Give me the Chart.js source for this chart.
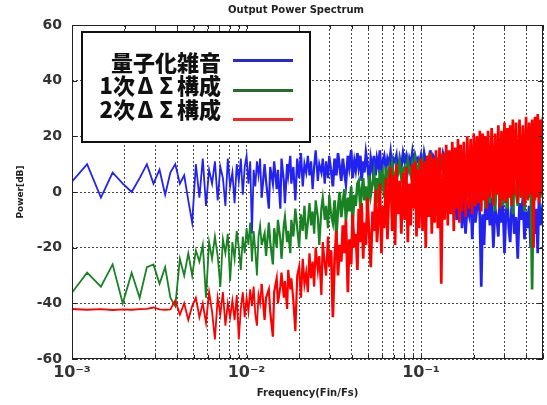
<!DOCTYPE html>
<html>
<head>
<meta charset="utf-8">
<script src="https://cdn.jsdelivr.net/npm/chart.js@4.4.1/dist/chart.umd.min.js"></script>
<style>
  body { margin: 0; background: #fff; }
  #wrap { position: relative; width: 547px; height: 405px; }
  #legend-box { position: absolute; left: 81px; top: 31px; width: 230px; height: 112px;
    box-sizing: border-box; border: 2.5px solid #111; background: #fff; }
  .lg-text { position: absolute; left: 60px; width: 161px; height: 24px; line-height: 24px;
    text-align: right; font: 900 22px "Noto Sans CJK JP"; color: #111; white-space: nowrap; }
  .fw { display: inline-block; width: 21px; text-align: center; }
  .lg-line { position: absolute; left: 233px; width: 60px; height: 2.5px; }
</style>
</head>
<body>
<div id="wrap">
  <canvas id="chart" width="547" height="405"></canvas>
  <div id="legend-box"></div>
  <div id="legend"></div>
</div>
<script>
// FFT length, frequency = bin / N (Fin/Fs)
const N = 4096;

const bins = [
  4, 5, 6, 7, 8, 9, 10, 11, 12, 13, 14, 15, 16, 17, 18, 19, 20, 21, 22, 23,
  24, 25, 26, 27, 28, 29, 30, 31, 32, 33, 34, 35, 36, 37, 38, 39,
  40, 41, 42, 43, 44, 45, 46, 47, 48, 49, 50,
  52, 53, 55, 56, 58, 59, 61, 62, 64, 65, 67, 68, 70, 71, 73, 74, 76,
  78, 80, 82, 84, 86, 88, 90, 92, 94, 96, 98, 100,
  102, 105, 107, 110, 112, 115, 117, 120, 122, 125,
  128, 131, 134, 137, 140, 143, 146, 149,
  152, 156, 159, 163, 166, 170, 173, 177, 180, 184, 187, 191, 194, 198,
  202, 207, 211, 216, 220, 225, 229, 234, 238, 243, 247,
  252, 258, 263, 269, 274, 280, 285, 291, 296, 302,
  309, 316, 323, 330, 337, 344, 351, 358, 365, 372, 379, 386, 393, 400,
  409, 418, 427, 436, 445, 454, 463, 472, 481, 490, 499,
  511, 523, 535, 547, 559, 571, 583, 595, 607, 619, 631, 643, 655, 667, 679, 691, 703,
  720, 737, 754, 771, 788, 805, 822, 839, 856, 873, 890, 907, 924, 941, 958, 975, 992,
  1016, 1040, 1064, 1088, 1112, 1136, 1160, 1184, 1208, 1232, 1256, 1280, 1304, 1328, 1352, 1376, 1400,
  1434, 1468, 1502, 1536, 1570, 1604, 1638, 1672, 1706, 1740, 1774, 1808, 1842, 1876, 1910, 1944, 1978, 2012, 2048
];

// 量子化雑音 [dB]
const quantNoise = [
  3, 10, -2, 7, 3, 0, 5, 10, 3, 8, -1, 7, 10, 3, 6, -3, -11, 10, -2, 12,
  -5, 8, 3, 11, -3, 9, 5, -5, 12, 2, 7, -4, 10, 4, 12, -1,
  9, 13, 3, 11, -15, 8, 2, 11, 6, 12, -2,
  10, 4, -6, 9, 3, 11, 1, 8, -6, 12, 4, -4, 10, 6, 13, 3, 9,
  -3, 12, 5, 14, 2, 10, 7, 13, 6, 11, 1, 9,
  15, 4, 10, 7, 12, 3, 11, 5, 13, 8,
  2, 12, 6, 14, 9, 4, 12, 7,
  3, 13, 9, 15, 5, 11, 8, 14, 9, 13, 4, 11, 7, 14,
  10, 3, 12, 8, 13, 6, 12, 9, 15, 4, 11,
  13, 8, 12, 10, 14, 7, 12, 11, 13, 6,
  12, 9, 14, 11, 13, 8, 12, 10, 14, 9, 13, 11, 12, 10,
  13, 8, 14, 11, 12, 9, 15, 10, 13, 12, 9,
  11, 13, 10, 14, 12, 9, 13, 11, 5, 2, -6, 4, -10, 0, -4, 3, -13,
  -2, -15, -5, -8, 1, -17, -3, -11, -6, 2, -9, -34, -8, -19, -4, -10, 0,
  -12, -2, -20, -6, -9, -16, 0, -11, -5, -22, -8, -3, -13, -18, -6, -1, -15,
  -9, -24, -4, -10, -2, -17, -7, -13, -5, -20, -3, -11, -15, -6, -22, -1, -12, -8, -4
];

// 1次ΔΣ構成 [dB]
const firstOrder = [
  -37, -29, -34, -26, -40, -29, -38, -27, -26, -33, -27, -38, -41, -24, -30, -22, -30, -21, -25, -19,
  -38, -18, -24, -16, -23, -34, -17, -22, -15, -32, -18, -24, -14, -20, -28, -16,
  -22, -13, -19, -11, -25, -14, -21, -30, -16, -12, -19,
  -15, -23, -11, -18, -26, -13, -20, -10, -17, -24, -12, -9, -18, -14, -22, -10, -16,
  -6, -13, -20, -8, -14, -5, -17, -11, -4, -12, -7, -15,
  -3, -9, -19, -6, -2, -10, -5, -13, -1, -8,
  -11, -3, -16, -6, 0, -9, -4, 1,
  -10, -2, -7, 2, -12, -1, -5, 3, 4, -6, 0, 5, -3, 2,
  -8, 6, -1, 3, 7, 1, 5, -4, 8, 3, 6,
  -2, 9, 4, 8, 4, 10, 6, 2, 9, 7,
  11, 5, 8, 9, 6, 11, 8, 6, 10, 7, 12, 9, 6, 10,
  8, 11, 6, 10, 9, 12, 7, 11, 8, 10, 6,
  10, 7, 11, 9, 12, 8, 10, 6, 9, 4, 8, 0, 6, 2, 9, -4, 5,
  3, -2, 7, 0, 5, -5, 8, 2, 6, -3, 4, 9, -1, 5, -6, 3, 7,
  -4, 7, 1, -7, 5, 2, -3, 8, -5, 4, 1, -6, 7, -2, 5, -8, 3,
  0, -5, 6, -2, 4, -7, 3, 8, -2, 5, -35, 6, -3, 4, 0, 7, -2, 5, 1
];

// 2次ΔΣ構成 [dB]
const secondOrder = [
  -42, -42.3, -42.1, -42.4, -42.2, -42.3, -42.1, -42, -41.5, -42.2, -42.3, -42.2, -39, -44, -40, -46, -41, -38, -45, -40,
  -47, -36, -43, -53, -38, -44, -36, -48, -40, -45, -39, -46, -37, -53, -42, -36,
  -45, -38, -43, -35, -41, -34, -44, -48, -37, -40, -33,
  -46, -38, -35, -43, -52, -36, -31, -40, -34, -29, -38, -32, -42, -28, -35, -31, -39,
  -50, -30, -27, -38, -24, -33, -29, -36, -22, -31, -25, -34,
  -20, -28, -23, -37, -18, -26, -30, -16, -27, -21,
  -45, -24, -14, -30, -19, -25, -12, -22,
  -10, -36, -17, -26, -8, -20, -15, -28, -6, -18, -4, -24, -11, -19,
  -2, -16, -27, -7, -14, 1, -18, -9, 3, -22, -5,
  -13, 5, -17, 2, 9, -14, 6, -19, 10, -8,
  4, -15, 7, -10, 9, -18, 3, -12, 10, -6, 11, -16, 8, -13,
  12, -14, 11, -20, 13, -9, 14, -15, 12, -11, 15,
  -13, 16, -33, 14, -10, 17, -12, 15, -8, 18, -14, 16, -6, 19, -11, 17, -7,
  18, -9, 20, -6, 19, -8, 21, -5, 20, -4, 22, -7, 21, -3, 20, -6, 22,
  -2, 23, -5, 21, -1, 24, -6, 22, -3, 25, -4, 23, -2, 24, -5, 26, -1,
  25, -4, 26, -2, 24, -5, 27, -3, 25, -1, 26, -20, 27, -2, 28, -4, 26, -1, 27
];

const seriesLabels = ['量子化雑音', '1次ΔΣ構成', '2次ΔΣ構成'];
const seriesColors = ['rgb(35,35,240)', 'rgb(25,130,35)', 'rgb(255,0,0)'];
const legendColors = ['rgb(40,40,215)', 'rgb(35,110,45)', 'rgb(240,40,40)'];
const xTickLabels = { '-3': '10⁻³', '-2': '10⁻²', '-1': '10⁻¹' };

function toPoints(values) {
  return values.map((v, i) => ({ x: bins[i] / N, y: v }));
}

// legend as html text, greek letters given a full-width cell like the original
function buildLegend() {
  const holder = document.getElementById('legend');
  const textTop = [45, 68, 92];
  const lineTop = [59, 89, 118];
  seriesLabels.forEach((label, i) => {
    const t = document.createElement('div');
    t.className = 'lg-text';
    t.style.top = textTop[i] + 'px';
    t.innerHTML = label.replace(/([ΔΣ])/g, '<span class="fw">$1</span>');
    holder.appendChild(t);
    const l = document.createElement('div');
    l.className = 'lg-line';
    l.style.top = lineTop[i] + 'px';
    l.style.background = legendColors[i];
    holder.appendChild(l);
  });
}

// box, tick marks and title
const framePlugin = {
  id: 'frame',
  afterDraw(chart) {
    const ctx = chart.ctx;
    const a = chart.chartArea;
    const xs = chart.scales.x;
    const ys = chart.scales.y;
    ctx.save();

    ctx.strokeStyle = '#222';
    ctx.lineWidth = 1;
    ctx.setLineDash([]);
    ctx.strokeRect(a.left + 0.5, a.top + 0.5, a.right - a.left - 1, a.bottom - a.top - 1);

    ctx.beginPath();
    xs.ticks.forEach(t => {
      const px = Math.round(xs.getPixelForValue(t.value)) + 0.5;
      ctx.moveTo(px, a.bottom); ctx.lineTo(px, a.bottom - 4);
      ctx.moveTo(px, a.top); ctx.lineTo(px, a.top + 4);
    });
    ys.ticks.forEach(t => {
      const py = Math.round(ys.getPixelForValue(t.value)) + 0.5;
      ctx.moveTo(a.left, py); ctx.lineTo(a.left + 5, py);
      ctx.moveTo(a.right, py); ctx.lineTo(a.right - 5, py);
    });
    ctx.stroke();

    ctx.fillStyle = '#222';
    ctx.font = 'bold 10px "DejaVu Sans"';
    ctx.textAlign = 'center';
    ctx.textBaseline = 'middle';
    ctx.fillText('Output Power Spectrum', 296, 10);
    ctx.restore();
  }
};

// the spectrum gets very dense to the right, so the trace is drawn heavier there
const denseWidth = ctx => (ctx.p0.parsed.x > 0.03 ? 2.7 : ctx.p0.parsed.x > 0.012 ? 2.2 : 1.8);

const datasets = [quantNoise, firstOrder, secondOrder].map((vals, i) => ({
  label: seriesLabels[i],
  data: toPoints(vals),
  borderColor: seriesColors[i],
  borderWidth: 1.8,
  segment: { borderWidth: denseWidth },
  pointRadius: 0,
  tension: 0,
  order: 2 - i
}));

new Chart(document.getElementById('chart'), {
  type: 'line',
  data: { datasets: datasets },
  options: {
    responsive: false,
    animation: false,
    layout: { padding: { top: 25, right: 2, left: 0, bottom: 0 } },
    plugins: {
      legend: { display: false },
      tooltip: { enabled: false }
    },
    scales: {
      x: {
        type: 'logarithmic',
        min: 0.001,
        max: 0.5,
        afterFit(scale) { scale.height = 46; },
        afterBuildTicks(scale) {
          // drop the 1.5 x 10^n ticks chart.js adds
          scale.ticks = scale.ticks.filter(t => {
            const m = t.value / Math.pow(10, Math.floor(Math.log10(t.value) + 1e-9));
            return Math.abs(m - 1.5) > 0.01;
          });
        },
        grid: { color: '#444', lineWidth: 1, drawTicks: false },
        border: { display: false, dash: [2, 2] },
        ticks: {
          autoSkip: false,
          maxRotation: 0,
          padding: 4,
          color: '#333',
          font: { family: 'DejaVu Sans', size: 16, weight: 'bold' },
          callback(value) {
            const e = Math.log10(value);
            if (Math.abs(e - Math.round(e)) < 1e-6) return xTickLabels[String(Math.round(e))] || '';
            return '';
          }
        },
        title: {
          display: true,
          text: 'Frequency(Fin/Fs)',
          color: '#222',
          font: { family: 'DejaVu Sans', size: 10, weight: 'bold' },
          padding: { top: 0, bottom: 6 }
        }
      },
      y: {
        min: -60,
        max: 60,
        afterFit(scale) { scale.width = 72; },
        grid: { color: '#444', lineWidth: 1, drawTicks: false },
        border: { display: false, dash: [2, 2] },
        ticks: {
          stepSize: 20,
          padding: 10,
          color: '#333',
          font: { family: 'DejaVu Sans', size: 14, weight: 'bold' }
        },
        title: {
          display: true,
          text: 'Power[dB]',
          color: '#222',
          font: { family: 'DejaVu Sans', size: 9, weight: 'bold' },
          padding: { top: 15, bottom: 0 }
        }
      }
    }
  },
  plugins: [framePlugin]
});

buildLegend();
</script>
</body>
</html>
